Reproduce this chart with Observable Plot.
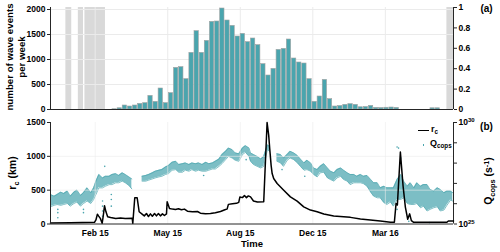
<!DOCTYPE html>
<html><head><meta charset="utf-8">
<script src="https://cdn.jsdelivr.net/npm/d3@7"></script>
<script src="https://cdn.jsdelivr.net/npm/@observablehq/plot@0.6"></script>
<style>
body{margin:0;background:#fff;}
#c{position:relative;width:500px;height:252px;overflow:hidden;font-family:"Liberation Sans",Arial,sans-serif;font-weight:bold;color:#000;}
#c svg{position:absolute;left:0;overflow:visible;}
.lbl{position:absolute;white-space:nowrap;font-weight:bold;line-height:1.25;text-align:center;}
.lbl sub{font-size:70%;vertical-align:-0.3em;line-height:0;}
.lbl sup{font-size:70%;vertical-align:0.5em;line-height:0;}
</style></head><body><div id="c"></div>
<script>
// ---------- data (time = days since 2015-01-01) ----------
const xStartDay = -21, xEndDay = 529;
const tickDays = [40, 139, 238, 337, 436];
const tickLabels = ["Feb 15", "May 15", "Aug 15", "Dec 15", "Mar 16"];

// panel (a): weekly number of wave events
const firstWeekDay = 63;
const weeklyEvents = [5, 25, 80, 60, 80, 113, 127, 273, 153, 420, 127, 327, 833, 847, 607, 1133, 1567, 1133, 1373, 1753,
  1760, 2020, 1780, 1673, 1460, 1513, 1347, 1420, 1287, 907, 680, 813, 1193, 1213, 1400, 1020, 940, 920, 607, 153,
  260, 593, 207, 60, 70, 93, 107, 93, 45, 50, 72, 33, 30, 35, 40, 33, 0, 0, 0, 0, 0, 0, 25, 25, 0];
const leftTopTicks = [0, 500, 1000, 1500, 2000];
const rightTopTicks = [0, 0.2, 0.4, 0.6, 0.8, 1];
// gray periods (right axis, fraction)
const gapStartDay = [0, 17, 26, 520];
const gapEndDay = [8, 24, 54, 529];
const gapValue = [1, 1, 1, 1];

// panel (b): r_c (km)
const rcDay = [-21, 6, 39, 41, 43, 44.5, 47, 49.5, 51, 52.7, 54.7, 57, 61, 68, 74.5, 81, 90.5, 91.3, 94, 97.3, 100, 104, 107, 110,
  112.7, 115.4, 118, 121, 123.6, 126.3, 129, 131.8, 134.5, 137.3, 138.2, 141.4, 145.4, 149.5, 153.6, 157.7, 161.8, 165.9,
  172.7, 179.6, 183.6, 190.5, 197.3, 204, 211, 217.8, 220, 221.8, 227.3, 232.8, 235.9, 237.5, 241, 243.7, 246.4, 249, 252,
  256, 261.4, 270, 274.6, 276.8, 278.2, 280.1, 281.5, 283.6, 288.3, 297.3, 306.4, 315.6, 324.6, 333.7, 342.9, 352, 365.5,
  379, 388.3, 402, 415.6, 429, 443, 448.3, 450.6, 452.4, 456.5, 460.2, 463.3, 466.5, 469.2, 471.5, 474.7, 520, 522, 529];
const rcKm = [15, 18, 25, 60, 145, 120, 83, 10, 120, 270, 180, 108, 95, 80, 90, 80, 85, 10, 387, 387, 181, 147, 120, 155,
  110, 150, 115, 155, 120, 155, 120, 150, 125, 150, 328, 230, 220, 215, 225, 210, 220, 190,
  181, 185, 160, 150, 155, 165, 185, 215, 220, 290, 300, 305, 320, 400, 390, 420, 390, 415, 400,
  340, 325, 330, 1500, 1309, 1113, 867, 745, 672, 598, 500, 401, 338, 254, 206, 181, 147, 118,
  108, 98, 74, 59, 44, 25, 25, 304, 280, 1063, 560, 250, 70, 150, 50, 25, 25, 44, 44];
const rcTicks = [0, 500, 1000, 1500];

// panel (b): Q_cops band (log10 of s^-1), upper and lower envelope; null = no data
const bandDay = [-21, -16, -12, -7, -3, 2, 6, 11, 15, 20, 24, 29, 34, 38, 41, 45, 50, 54, 59, 63, 68, 72, 77, 81, 86, 90, 97,
  104, 109, 113, 118, 122, 127, 131, 136, 140, 145, 150, 154, 159, 163, 168, 172, 177, 181, 186, 191, 195, 200, 204, 209,
  213, 218, 222, 227, 231, 236, 241, 245, 250, 252, 256, 261, 266, 270, 275, 278, 283, 288, 293, 297, 302, 306, 311, 316,
  320, 325, 329, 334, 338, 343, 347, 352, 357, 361, 366, 370, 375, 379, 384, 388, 393, 397, 402, 406, 411, 416, 420, 425,
  429, 434, 438, 443, 447, 452, 457, 461, 466, 470, 475, 479, 484, 488, 493, 497, 502, 507, 511, 516, 520, 525, 528];
const qLogHi = [26.45, 26.37, 26.45, 26.57, 26.50, 26.62, 26.37, 26.57, 26.67, 26.41, 26.54, 26.78, 26.54, 26.78, 27.11, 27.44,
  27.27, 27.35, 27.35, 27.44, 27.48, 27.39, 27.52, 27.44, 27.32, 27.22, null,
  27.35, 27.39, 27.44, 27.52, 27.60, 27.65, 27.68, 27.81, 27.88, 28.04, 28.09, 27.93, 27.97, 28.01, 27.93, 28.01, 27.97, 28.01,
  27.93, 28.04, 27.97, 28.01, 28.09, 28.20, 28.42, 28.58, 28.74, 28.66, 28.50, 28.46, 28.74, 28.86, 28.74, 28.50, 28.42, 28.33,
  28.20, 28.33, 28.90, 28.82, null, 28.46, 28.42, 28.25, 28.42, 28.58, 28.50, 28.37, 28.20, 28.01, 28.14, 28.01, 27.76, 27.68,
  27.84, 27.97, 27.76, 27.60, 27.52, 27.68, 27.76, 27.65, 27.52, 27.44, 27.44, 27.35, 27.44, 27.35, 27.39, 27.19, 27.03, 27.03,
  26.78, 26.86, 26.78, 26.78, 26.78, 27.19, 27.44, 27.11, 26.86, 27.03, 26.78, 27.03, 26.86, 26.94, 26.94, 26.70, 26.62, 26.78,
  26.70, 26.54, 26.62, 26.62, 26.54];
const qLogLo = [25.85, 25.92, 25.96, 25.92, 25.96, 26.01, 25.88, 26.01, 26.08, 25.88, 26.01, 26.13, 26.01, 26.21, 26.45, 26.78,
  26.78, 26.86, 26.94, 26.94, 27.03, 27.03, 27.11, 27.03, 26.90, 26.73, null,
  27.11, 27.11, 27.16, 27.22, 27.27, 27.32, 27.35, 27.44, 27.48, 27.65, 27.68, 27.55, 27.55, 27.65, 27.60, 27.68, 27.60, 27.65,
  27.60, 27.60, 27.65, 27.71, 27.71, 27.84, 27.97, 28.17, 28.33, 28.25, 28.14, 28.09, 28.42, 28.53, 28.33, 28.09, 27.93, 27.84,
  27.76, 27.84, 28.66, 28.58, null, 28.09, 28.01, 27.84, 28.14, 28.25, 28.17, 28.01, 27.84, 27.65, 27.68, 27.60, 27.44, 27.32,
  27.52, 27.55, 27.27, 27.19, 27.11, 27.27, 27.35, 27.19, 27.11, 26.94, 27.03, 27.03, 27.03, 26.99, 26.86, 26.57, 26.37, 26.29,
  26.29, 26.05, 25.96, 26.08, 25.88, 26.21, 26.21, 26.29, 26.01, 25.96, 25.96, 26.01, 25.80, 25.88, 25.64, 25.72, 25.80, 25.85,
  25.64, 25.69, 25.92, 26.18, 26.13];
// scattered Q_cops points away from the band
const outDay = [-11, -11, -11, 24, 24, 50, 50, 50, 50, 53, 62, 62, 62, 188, 246, 295, 326, 452, 454, 457, 452, 468, 496];
const outQLog = [25.31, 25.56, 25.72, 25.56, 25.72, 25.39, 25.64, 25.88, 26.13, 27.84, 25.88, 26.21, 26.45, 27.39, 28.17,
  27.68, 27.35, 28.79, 28.74, 28.25, 25.72, 25.13, 25.07];
const rightBotTicks = [1e25, 1e26, 1e27, 1e28, 1e29, 1e30];

// ---------- build ----------
const DAY0 = Date.UTC(2015, 0, 1);
const toDate = d => new Date(DAY0 + d * 864e5);
const xDomain = [toDate(xStartDay), toDate(xEndDay)];
const tickDates = tickDays.map(toDate);
const labelByTime = new Map(tickDates.map((d, i) => [+d, tickLabels[i]]));
const teal = "#4aa5ae", axisColor = "#262626", gridColor = "#ebebeb";
const style = {fontFamily: '"Liberation Sans", Arial, sans-serif', fontWeight: "bold", fontSize: "8.5px", background: "transparent", color: "#000", overflow: "visible"};

const weeks = weeklyEvents.map((c, i) => ({start: toDate(firstWeekDay + 7 * i), end: toDate(firstWeekDay + 7 * i + 7), count: c}));
const gaps = gapStartDay.map((s, i) => ({start: toDate(s), end: toDate(gapEndDay[i]), v: gapValue[i]}));
const rc = rcDay.map((d, i) => ({date: toDate(d), km: rcKm[i]}));
const band = bandDay.map((d, i) => ({date: toDate(d), hi: qLogHi[i] == null ? NaN : 10 ** qLogHi[i], lo: qLogLo[i] == null ? NaN : 10 ** qLogLo[i]}));
const outl = outDay.map((d, i) => ({date: toDate(d), q: 10 ** outQLog[i]}));

const topDims = {width: 500, height: 115, marginLeft: 50, marginRight: 47, marginTop: 7, marginBottom: 6};
const botDims = {width: 500, height: 137, marginLeft: 50, marginRight: 47, marginTop: 7, marginBottom: 28.5};

const topRight = Plot.plot({...topDims, style,
  x: {type: "utc", domain: xDomain, axis: null},
  y: {domain: [0, 1]},
  marks: [
    Plot.rectY(gaps, {x1: "start", x2: "end", y1: 0, y2: "v", fill: "#d9d9d9"}),
    Plot.ruleX([xDomain[1]], {stroke: axisColor}),
    Plot.axisY({anchor: "right", ticks: rightTopTicks, tickFormat: d => String(d), tickSize: 3, tickPadding: 2, label: null, stroke: axisColor})
  ]
});
const topLeft = Plot.plot({...topDims, style,
  x: {type: "utc", domain: xDomain, axis: null},
  y: {domain: [0, 2040]},
  marks: [
    Plot.gridY(leftTopTicks.slice(1), {stroke: gridColor, strokeOpacity: 1}),
    Plot.gridX(tickDates, {stroke: gridColor, strokeOpacity: 1}),
    Plot.rectY(weeks, {x1: "start", x2: "end", y: "count", fill: teal, stroke: "#a3a3a3", strokeWidth: 0.6, insetLeft: 0.4, insetRight: 0.4}),
    Plot.ruleY([0], {stroke: axisColor}),
    Plot.ruleX([xDomain[0]], {stroke: axisColor}),
    Plot.axisY({ticks: leftTopTicks, tickFormat: d3.format("d"), tickSize: 3, tickPadding: 2, label: null, stroke: axisColor})
  ]
});
const botRight = Plot.plot({...botDims, style,
  x: {type: "utc", domain: xDomain, axis: null},
  y: {type: "log", domain: [1e25, 1e30]},
  marks: [
    Plot.areaY(band, {x: "date", y1: "lo", y2: "hi", fill: teal, fillOpacity: 0.72, curve: "linear"}),
    Plot.lineY(band, {x: "date", y: "hi", stroke: teal, strokeWidth: 0.7}),
    Plot.lineY(band, {x: "date", y: "lo", stroke: teal, strokeWidth: 0.7}),
    Plot.dot(outl, {x: "date", y: "q", r: 0.8, fill: teal}),
    Plot.ruleX([xDomain[1]], {stroke: axisColor}),
    Plot.axisY({anchor: "right", ticks: rightBotTicks, tickFormat: d => { const e = Math.round(Math.log10(d)); return (e === 25 || e === 30) ? "10^" + e : ""; }, tickSize: 3, tickPadding: 2, label: null, stroke: axisColor})
  ]
});
const botLeft = Plot.plot({...botDims, style,
  x: {type: "utc", domain: xDomain},
  y: {domain: [0, 1500]},
  marks: [
    Plot.gridY([500, 1000], {stroke: gridColor, strokeOpacity: 0.6}),
    Plot.gridX(tickDates, {stroke: gridColor, strokeOpacity: 0.6}),
    Plot.line(rc, {x: "date", y: "km", stroke: "#000", strokeWidth: 1.5}),
    Plot.ruleY([0], {stroke: axisColor}),
    Plot.ruleX([xDomain[0]], {stroke: axisColor}),
    Plot.axisY({ticks: rcTicks, tickFormat: d3.format("d"), tickSize: 3, tickPadding: 2, label: null, stroke: axisColor}),
    Plot.axisX({ticks: tickDates, tickFormat: d => labelByTime.get(+d), tickSize: 0, tickPadding: 6, label: null})
  ]
});

// superscripts for 10^n labels
botRight.querySelectorAll("text").forEach(t => {
  const s = t.textContent;
  if (s.startsWith("10^")) {
    t.textContent = "";
    const a = document.createElementNS("http://www.w3.org/2000/svg", "tspan");
    a.textContent = "10";
    const b = document.createElementNS("http://www.w3.org/2000/svg", "tspan");
    b.textContent = s.slice(3);
    b.setAttribute("font-size", "6px");
    b.setAttribute("dy", "-0.5em");
    t.append(a, b);
  }
});

const c = document.getElementById("c");
[[topRight, 0], [topLeft, 0], [botRight, 115], [botLeft, 115]].forEach(([el, top]) => {
  el.style.top = top + "px";
  c.appendChild(el);
});

function label(html, cx, cy, rot, size) {
  const d = document.createElement("div");
  d.className = "lbl";
  d.innerHTML = html;
  d.style.left = cx + "px";
  d.style.top = cy + "px";
  d.style.fontSize = size + "px";
  d.style.transform = `translate(-50%,-50%) rotate(${rot}deg)`;
  c.appendChild(d);
  return d;
}
label("number of wave events<br>per week", 15.5, 57, -90, 9.7);
label("r<sub>c</sub> (km)", 13, 173, -90, 10.5);
label("Q<sub>cops</sub> (s<sup>-1</sup>)", 489, 181, -90, 10.5);
label("Time", 252, 244, 0, 9.5);
label("(a)", 486.5, 9, 0, 10);
label("(b)", 486.5, 126.5, 0, 10);

// legend
const ln = document.createElement("div");
Object.assign(ln.style, {position: "absolute", left: "418px", top: "130px", width: "11px", height: "0", borderTop: "1.5px solid #000"});
c.appendChild(ln);
const dt = document.createElement("div");
Object.assign(dt.style, {position: "absolute", left: "422.5px", top: "144px", width: "1.6px", height: "1.6px", background: teal});
c.appendChild(dt);
const l1 = label("r<sub>c</sub>", 0, 0, 0, 9);
l1.style.transform = "translate(0,-50%)"; l1.style.left = "431px"; l1.style.top = "130px";
const l2 = label("Q<sub>cops</sub>", 0, 0, 0, 9);
l2.style.transform = "translate(0,-50%)"; l2.style.left = "430px"; l2.style.top = "144px";
</script>
</body></html>
